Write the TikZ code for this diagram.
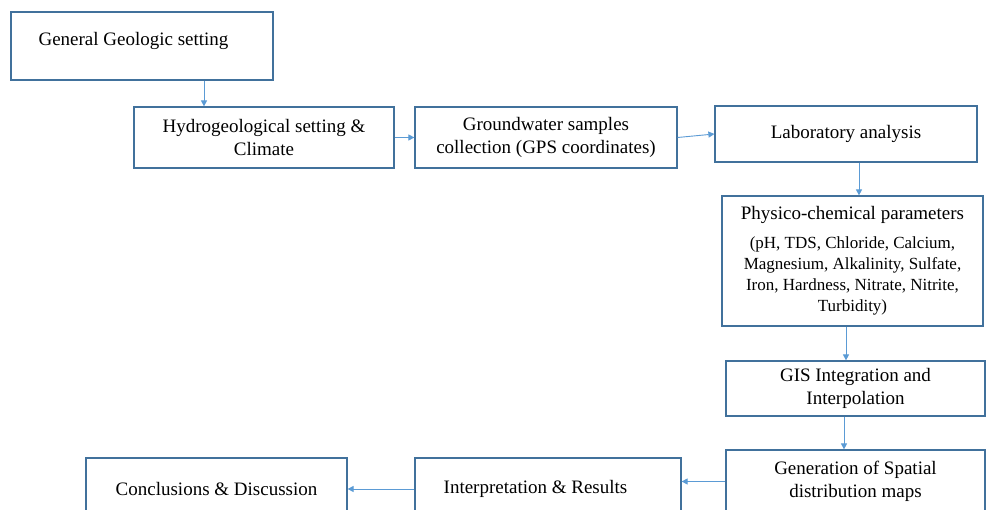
\documentclass[tikz,border=0pt]{standalone}
\usepackage{fontspec}
\setmainfont{Liberation Serif}
\usetikzlibrary{arrows.meta}
\definecolor{boxline}{HTML}{41719C}
\definecolor{arrowline}{HTML}{5B9BD5}
\newcommand{\listfont}{\fontsize{17}{21}\selectfont}
\begin{document}
\begin{tikzpicture}[
  x=1pt, y=-1pt,
  every node/.style={align=center, font=\fontsize{19}{23}\selectfont, inner sep=0pt},
  box/.style={draw=boxline, line width=1.2pt},
  arr/.style={draw=arrowline, line width=0.9pt, -{Triangle[length=6pt,width=6pt]}}
]
  \useasboundingbox[fill=white] (0,0) rectangle (986,510);

  % top row
  \node[box, minimum width=262, minimum height=68] (geo) at (142,46) {};
  \node at ([shift={(-8.5,-5)}]geo.center) {General Geologic setting};
  \node[box, minimum width=260, minimum height=61] (hydro) at (264,137.5) {Hydrogeological setting \&\\Climate};
  \node[box, minimum width=262, minimum height=61] (gw) at (546,137.5) {Groundwater samples\\collection (GPS coordinates)};
  \node[box, minimum width=262, minimum height=56] (lab) at (846,134) {Laboratory analysis};

  % right column
  \node[box, minimum width=261, minimum height=130] (phys) at (852.5,261)
    {Physico-chemical parameters\\[6pt]
     {\listfont (pH, TDS, Chloride, Calcium,}\\[-2pt]
     {\listfont Magnesium, Alkalinity, Sulfate,}\\[-2pt]
     {\listfont Iron, Hardness, Nitrate, Nitrite,}\\[-2pt]
     {\listfont Turbidity)}};
  \node[box, minimum width=259, minimum height=55] (gis) at (855.5,388.5) {GIS Integration and\\Interpolation};
  \node[box, minimum width=259, minimum height=63] (gen) at (855.5,481.5) {Generation of Spatial\\distribution maps};

  % bottom row
  \node[box, minimum width=266, minimum height=62] (interp) at (548,489) {};
  \node at ([xshift=-12.5]interp.center) {Interpretation \& Results};
  \node[box, minimum width=261, minimum height=62] (concl) at (216.5,489) {Conclusions \& Discussion};

  % connectors
  \draw[arr] ([xshift=62]geo.south) -- ([xshift=62]geo.south |- hydro.north);
  \draw[arr] (hydro.east) -- (gw.west);
  \draw[arr] (gw.east) -- (lab.west);
  \draw[arr] ([xshift=13]lab.south) -- ([xshift=13]lab.south |- phys.north);
  \draw[arr] ([xshift=-6.5]phys.south) -- ([xshift=-6.5]phys.south |- gis.north);
  \draw[arr] ([xshift=-11.5]gis.south) -- ([xshift=-11.5]gis.south |- gen.north);
  \draw[arr] (gen.west) -- (gen.west -| interp.east);
  \draw[arr] (interp.west) -- (interp.west -| concl.east);
\end{tikzpicture}
\end{document}
